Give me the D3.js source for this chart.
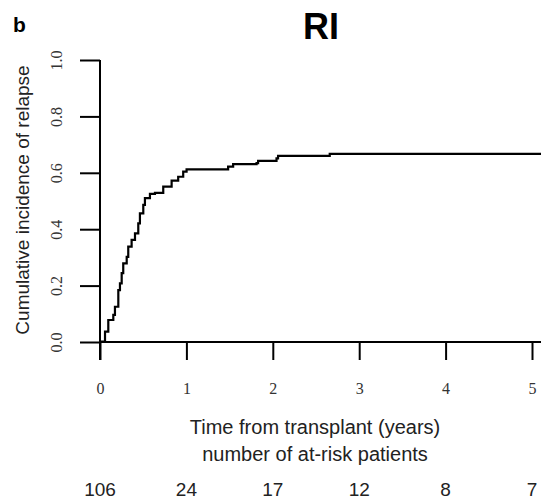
<!DOCTYPE html>
<html>
<head>
<meta charset="utf-8">
<script src="https://cdn.jsdelivr.net/npm/d3@7"></script>
<style>
	body { margin: 0; background: #fff; }
	svg { display: block; }
</style>
</head>
<body>
<svg id="chart" width="541" height="500"></svg>
<script>
// cumulative incidence curve (years, CIR)
const times = [0, 0.02, 0.058, 0.096, 0.154, 0.173, 0.212, 0.231, 0.251, 0.269, 0.309, 0.327, 0.366, 0.405,
	0.443, 0.462, 0.501, 0.520, 0.578, 0.636, 0.674, 0.732, 0.829, 0.905, 0.963, 1.002, 1.465, 1.483, 1.541,
	1.812, 1.830, 2.043, 2.061, 2.621, 2.659, 5.2];
const incidence = [0, 0.001, 0.037, 0.078, 0.096, 0.125, 0.184, 0.208, 0.244, 0.279, 0.302, 0.338, 0.362, 0.385,
	0.421, 0.456, 0.486, 0.510, 0.525, 0.529, 0.529, 0.551, 0.572, 0.586, 0.604, 0.612, 0.612, 0.622, 0.631,
	0.634, 0.642, 0.651, 0.660, 0.660, 0.667, 0.667];

const yTicks = [0, 0.2, 0.4, 0.6, 0.8, 1.0];
const xTicks = [0, 1, 2, 3, 4, 5];
const atRisk = [106, 24, 17, 12, 8, 7];

const serif = '"Liberation Serif", "Times New Roman", serif';
const sans = '"Liberation Sans", Arial, sans-serif';

const svg = d3.select('#chart');

const x = d3.scaleLinear().domain([0, 5]).range([100, 532]);
const y = d3.scaleLinear().domain([0, 1]).range([342, 60]);

// axes
const yAxis = svg.append('g')
	.attr('transform', `translate(${x(0)},0)`)
	.call(d3.axisLeft(y).tickValues(yTicks).tickSize(20).tickSizeOuter(0).tickFormat(d3.format('.1f')));
const xAxis = svg.append('g')
	.attr('transform', `translate(0,${y(0)})`)
	.call(d3.axisBottom(x).tickValues(xTicks).tickSize(18).tickSizeOuter(0).tickFormat(d => d));

// R-style axis lines: y axis runs down to the x tick end, x axis runs off the right edge
yAxis.select('.domain').attr('d', `M0,${y(1)}V${y(0) + 18}`);
xAxis.select('.domain').attr('d', `M${x(0)},0H541`);

svg.selectAll('.domain, .tick line')
	.attr('stroke', '#000')
	.attr('stroke-width', 2);

yAxis.selectAll('.tick text')
	.attr('x', null)
	.attr('transform', 'translate(-44,0) rotate(-90)')
	.attr('text-anchor', 'middle')
	.attr('dy', '0.35em')
	.attr('font-family', serif).attr('font-size', 16).attr('fill', '#333');
xAxis.selectAll('.tick text')
	.attr('y', 52)
	.attr('dy', null)
	.attr('font-family', serif).attr('font-size', 16).attr('fill', '#333');

// curve
const line = d3.line()
	.x((d, i) => x(times[i]))
	.y(d => y(d))
	.curve(d3.curveStepAfter);

svg.append('path')
	.datum(incidence)
	.attr('fill', 'none')
	.attr('stroke', '#000')
	.attr('stroke-width', 2.2)
	.attr('d', line);

// labels
svg.append('text')
	.attr('x', 13).attr('y', 32)
	.attr('font-family', sans).attr('font-size', 21).attr('font-weight', 'bold')
	.text('b');

svg.append('text')
	.attr('x', 321).attr('y', 39)
	.attr('text-anchor', 'middle')
	.attr('font-family', sans).attr('font-size', 36).attr('font-weight', 'bold')
	.text('RI');

svg.append('text')
	.attr('transform', 'translate(29,200) rotate(-90)')
	.attr('text-anchor', 'middle')
	.attr('font-family', sans).attr('font-size', 19).attr('fill', '#222')
	.text('Cumulative incidence of relapse');

svg.append('text')
	.attr('x', 315).attr('y', 434)
	.attr('text-anchor', 'middle')
	.attr('font-family', sans).attr('font-size', 20).attr('fill', '#222')
	.text('Time from transplant (years)');

svg.append('text')
	.attr('x', 315).attr('y', 461)
	.attr('text-anchor', 'middle')
	.attr('font-family', sans).attr('font-size', 20).attr('fill', '#222')
	.text('number of at-risk patients');

svg.append('g').selectAll('text')
	.data(atRisk)
	.enter().append('text')
		.attr('x', (d, i) => x(xTicks[i]))
		.attr('y', 496)
		.attr('text-anchor', 'middle')
		.attr('font-family', sans).attr('font-size', 19).attr('fill', '#222')
		.text(d => d);
</script>
</body>
</html>
